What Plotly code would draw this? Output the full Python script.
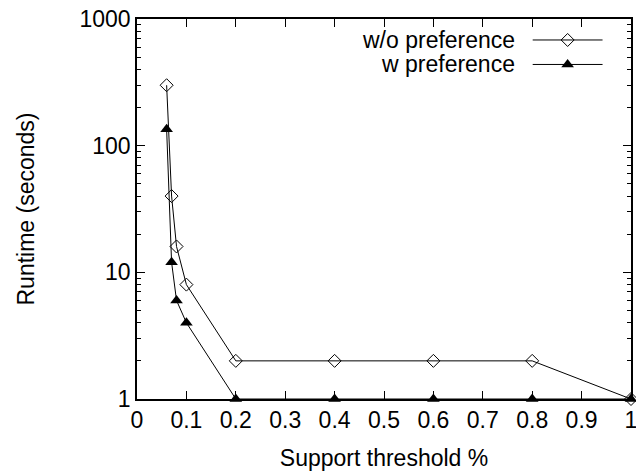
import plotly.graph_objects as go

support = [0.06, 0.07, 0.08, 0.1, 0.2, 0.4, 0.6, 0.8, 1.0]
runtime_wo_pref = [300, 40, 16, 8, 2, 2, 2, 2, 1]
runtime_w_pref = [135, 12, 6, 4, 1, 1, 1, 1, 1]
series_names = ["w/o preference", "w preference"]
x_ticks = [0, 0.1, 0.2, 0.3, 0.4, 0.5, 0.6, 0.7, 0.8, 0.9, 1]
x_tick_labels = ["0", "0.1", "0.2", "0.3", "0.4", "0.5", "0.6", "0.7", "0.8", "0.9", "1"]
y_ticks = [1, 10, 100, 1000]
y_tick_labels = ["1", "10", "100", "1000"]

FONT = "Liberation Sans, Arial, Helvetica, sans-serif"
FS = 23
W, H = 636, 475
ML, MR, MT, MB = 136.5, 4.5, 19, 75.7

fig = go.Figure()

line_style = dict(color="black", width=1)
fig.add_trace(go.Scatter(
    x=support, y=runtime_wo_pref, mode="lines+markers", name=series_names[0],
    line=line_style, cliponaxis=False,
    marker=dict(symbol="diamond-open", size=10, color="black", line=dict(width=1, color="black")),
    showlegend=False))
fig.add_trace(go.Scatter(
    x=support, y=runtime_w_pref, mode="lines+markers", name=series_names[1],
    line=line_style, cliponaxis=False,
    marker=dict(symbol="triangle-up", size=11, color="black", line=dict(width=0)),
    showlegend=False))

# custom legend (text left of sample) on an overlay axis in plot-fraction units
plot_w = W - ML - MR
plot_h = H - MT - MB
def fx(px):
    return (px - ML) / plot_w
def fy(py):
    return 1 - (py - MT) / plot_h

leg_rows = [40, 64.5]
leg_syms = [dict(symbol="diamond-open", size=10, color="black", line=dict(width=1, color="black")),
            dict(symbol="triangle-up", size=11, color="black", line=dict(width=0))]
for name, row, sym in zip(series_names, leg_rows, leg_syms):
    fig.add_trace(go.Scatter(
        x=[fx(533), fx(603)], y=[fy(row), fy(row)], mode="lines",
        line=dict(color="black", width=1), xaxis="x2", yaxis="y2",
        showlegend=False, hoverinfo="skip"))
    fig.add_trace(go.Scatter(
        x=[fx(568)], y=[fy(row)], mode="markers", marker=sym,
        xaxis="x2", yaxis="y2", showlegend=False, hoverinfo="skip"))
    fig.add_annotation(
        x=fx(517), y=fy(row), xref="x2", yref="y2", text=name,
        showarrow=False, xanchor="right", yanchor="middle",
        font=dict(family=FONT, size=FS, color="black"))

axis_common = dict(
    showgrid=False, zeroline=False, showline=True, linecolor="black", linewidth=1.5,
    mirror="ticks", ticks="inside", ticklen=8, tickwidth=1, tickcolor="black",
    ticklabeloverflow="allow", automargin=False,
    tickfont=dict(family=FONT, size=FS, color="black"))

fig.update_layout(
    template="none",
    width=W, height=H,
    margin=dict(l=ML, r=MR, t=MT, b=MB, pad=0, autoexpand=False),
    paper_bgcolor="white", plot_bgcolor="white",
    font=dict(family=FONT, size=FS, color="black"),
    xaxis=dict(range=[0, 1], tickvals=x_ticks, ticktext=x_tick_labels,
               title=dict(text="Support threshold %", font=dict(family=FONT, size=FS, color="black"), standoff=18),
               **axis_common),
    yaxis=dict(type="log", range=[0, 3], tickvals=y_ticks, ticktext=y_tick_labels,
               title=dict(text="Runtime (seconds)", font=dict(family=FONT, size=FS, color="black"), standoff=38),
               minor=dict(ticks="inside", ticklen=4, tickwidth=1, tickcolor="black", dtick="D1", showgrid=False),
               **axis_common),
    xaxis2=dict(range=[0, 1], overlaying="x", visible=False, fixedrange=True),
    yaxis2=dict(range=[0, 1], overlaying="y", visible=False, fixedrange=True),
)

fig.write_html("out.html")
